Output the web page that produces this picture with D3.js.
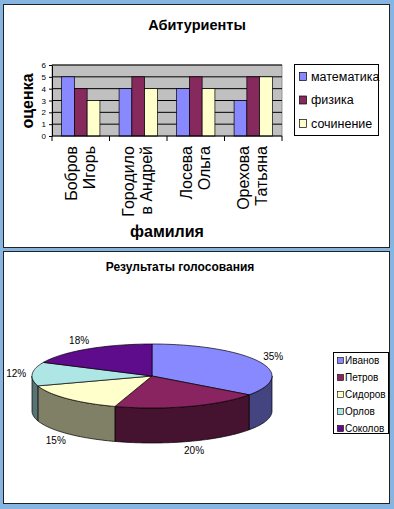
<!DOCTYPE html>
<html>
<head>
<meta charset="utf-8">
<script src="https://cdn.jsdelivr.net/npm/d3@7"></script>
<style>
  body { margin: 0; background: #87b5e2; }
  svg { display: block; font-family: "Liberation Sans", Arial, sans-serif; }
</style>
</head>
<body>
<svg id="chart" width="394" height="509"></svg>
<script>
// bar chart data
const students = [["Бобров", "Игорь"], ["Городило", "в Андрей"], ["Лосева", "Ольга"], ["Орехова", "Татьяна"]]
const subjects = ["математика", "физика", "сочинение"]
const math_marks = [5, 4, 4, 3]
const physics_marks = [4, 5, 5, 5]
const essay_marks = [3, 4, 4, 5]
const mark_ticks = [0, 1, 2, 3, 4, 5, 6]

// pie chart data
const candidates = ["Иванов", "Петров", "Сидоров", "Орлов", "Соколов"]
const votes = [35, 20, 15, 12, 18]

const bar_colors = ["#8888ff", "#862a5e", "#ffffcc"]
const pie_colors = ["#8888ff", "#8a2460", "#ffffcc", "#aee6e6", "#5e0c8c"]

const svg = d3.select("#chart")

svg.append("rect").attr("width", 394).attr("height", 509).attr("fill", "#87b5e2")

// the two white panels
svg.append("rect").attr("x", 3.5).attr("y", 4.5).attr("width", 386).attr("height", 243)
  .attr("fill", "white").attr("stroke", "#222")
svg.append("rect").attr("x", 3.5).attr("y", 251.5).attr("width", 386).attr("height", 252)
  .attr("fill", "white").attr("stroke", "#222")

// ---------- bar chart ----------
const plot = {left: 52, right: 282, top: 65, bottom: 136}

const x = d3.scaleBand()
  .domain(students.map(d => d.join(" ")))
  .range([plot.left, plot.right])
  .padding(0)

const y = d3.scaleLinear().domain([0, 6]).range([plot.bottom, plot.top])

const bw = x.bandwidth() / 4.5   // excel gap width 150%
const inner = d3.scaleBand().domain(subjects).range([bw * 0.75, bw * 3.75])

svg.append("text")
  .attr("x", 197).attr("y", 30)
  .attr("text-anchor", "middle")
  .attr("font-size", 14.5).attr("font-weight", "bold")
  .text("Абитуриенты")

svg.append("rect")
  .attr("x", plot.left).attr("y", plot.top)
  .attr("width", plot.right - plot.left).attr("height", plot.bottom - plot.top)
  .attr("fill", "#c0c0c0").attr("stroke", "#808080").attr("stroke-width", 0.8)

// gridlines
svg.append("g")
  .selectAll("line")
  .data(mark_ticks.slice(1))
  .join("line")
  .attr("x1", plot.left).attr("x2", plot.right)
  .attr("y1", d => y(d)).attr("y2", d => y(d))
  .attr("stroke", "black").attr("stroke-width", 1)

const series = [math_marks, physics_marks, essay_marks]

series.forEach((marks, i) => {
  svg.append("g")
    .selectAll("rect")
    .data(marks)
    .join("rect")
    .attr("x", (d, j) => x(students[j].join(" ")) + inner(subjects[i]))
    .attr("y", d => y(d))
    .attr("width", inner.bandwidth())
    .attr("height", d => y(0) - y(d))
    .attr("fill", bar_colors[i])
    .attr("stroke", "black").attr("stroke-width", 0.7)
})

// y axis
const y_axis = svg.append("g")
  .attr("transform", `translate(${plot.left},0)`)
  .call(d3.axisLeft(y).tickValues(mark_ticks).tickFormat(d3.format("d"))
    .tickSize(3).tickSizeOuter(0).tickPadding(3))
y_axis.selectAll("text").attr("font-size", 8).attr("font-family", "Liberation Sans, Arial")
y_axis.select(".domain").attr("stroke", "black")

// x axis line and boundary ticks
svg.append("line")
  .attr("x1", plot.left).attr("x2", plot.right)
  .attr("y1", plot.bottom).attr("y2", plot.bottom)
  .attr("stroke", "black")

const bounds = x.domain().map(d => x(d)).concat([plot.right])
svg.append("g")
  .selectAll("line")
  .data(bounds)
  .join("line")
  .attr("x1", d => d).attr("x2", d => d)
  .attr("y1", plot.bottom).attr("y2", plot.bottom + 5)
  .attr("stroke", "black")

// rotated two-line category labels
const cat_labels = svg.append("g")
  .selectAll("g")
  .data(students)
  .join("g")
  .attr("transform", d => `translate(${x(d.join(" ")) + x.bandwidth() / 2},146) rotate(-90)`)

cat_labels.each(function(d){
  const g = d3.select(this)
  d.forEach((line, k) => {
    g.append("text")
      .attr("x", 0)
      .attr("y", k == 0 ? -4 : 14)
      .attr("text-anchor", "end")
      .attr("font-size", 16)
      .text(line)
  })
})

svg.append("text")
  .attr("transform", "translate(33,101) rotate(-90)")
  .attr("text-anchor", "middle")
  .attr("font-size", 16).attr("font-weight", "bold")
  .text("оценка")

svg.append("text")
  .attr("x", 167).attr("y", 237)
  .attr("text-anchor", "middle")
  .attr("font-size", 16).attr("font-weight", "bold")
  .text("фамилия")

// legend
const legend1 = svg.append("g")
legend1.append("rect")
  .attr("x", 294.5).attr("y", 64.5).attr("width", 84).attr("height", 71)
  .attr("fill", "white").attr("stroke", "black")

const leg1_y = d3.scalePoint().domain(subjects).range([76, 123])
const leg1_items = legend1.selectAll("g.item")
  .data(subjects)
  .join("g")
  .attr("class", "item")
  .attr("transform", d => `translate(0,${leg1_y(d)})`)

leg1_items.append("rect")
  .attr("x", 299.5).attr("y", -3.5).attr("width", 7).attr("height", 8)
  .attr("fill", (d, i) => bar_colors[i]).attr("stroke", "black").attr("stroke-width", 0.7)
leg1_items.append("text")
  .attr("x", 311).attr("y", 4.5)
  .attr("font-size", 12.5)
  .text(d => d)

// ---------- 3D pie chart ----------
svg.append("text")
  .attr("x", 180).attr("y", 271)
  .attr("text-anchor", "middle")
  .attr("font-size", 12).attr("font-weight", "bold")
  .text("Результаты голосования")

const cx = 152, cy = 376, rx = 120, ry = 32, depth = 35

const pie = d3.pie().sort(null).value(d => d)
const arcs = pie(votes)

function pt(a, dy = 0){
  return [cx + rx * Math.sin(a), cy - ry * Math.cos(a) + dy]
}

function edge(a0, a1, dy = 0){
  const n = Math.max(2, Math.ceil((a1 - a0) / 0.03))
  return d3.range(n + 1).map(i => pt(a0 + (a1 - a0) * i / n, dy))
}

function half(c){
  const rgb = d3.rgb(c)
  return d3.rgb(rgb.r * 0.5, rgb.g * 0.5, rgb.b * 0.5).formatHex()
}

const line = d3.line()

// side walls (only the front half is visible)
const pie_g = svg.append("g")
pie_g.selectAll("path.side")
  .data(arcs.filter(d => d.endAngle > Math.PI / 2 && d.startAngle < Math.PI * 1.5))
  .join("path")
  .attr("class", "side")
  .attr("d", d => {
    const s = Math.max(d.startAngle, Math.PI / 2)
    const e = Math.min(d.endAngle, Math.PI * 1.5)
    const pts = edge(s, e).concat(edge(s, e, depth).reverse())
    return line(pts) + "Z"
  })
  .attr("fill", d => half(pie_colors[d.index]))
  .attr("stroke", "black").attr("stroke-width", 0.7)

// top faces
pie_g.selectAll("path.top")
  .data(arcs)
  .join("path")
  .attr("class", "top")
  .attr("d", d => line([[cx, cy]].concat(edge(d.startAngle, d.endAngle))) + "Z")
  .attr("fill", d => pie_colors[d.index])
  .attr("stroke", "black").attr("stroke-width", 0.7)

// percentage labels
const total = d3.sum(votes)
pie_g.selectAll("text")
  .data(arcs)
  .join("text")
  .attr("x", d => cx + 136 * Math.sin((d.startAngle + d.endAngle) / 2))
  .attr("y", d => {
    const m = (d.startAngle + d.endAngle) / 2
    const c = Math.cos(m)
    return cy - 42 * c + (c < 0 ? depth : 0) + 3.5
  })
  .attr("text-anchor", "middle")
  .attr("font-size", 10)
  .text(d => Math.round(d.value / total * 100) + "%")

// pie legend
const legend2 = svg.append("g")
legend2.append("rect")
  .attr("x", 333.5).attr("y", 352.5).attr("width", 55).attr("height", 81)
  .attr("fill", "white").attr("stroke", "black")

const leg2_y = d3.scalePoint().domain(candidates).range([360, 428])
const leg2_items = legend2.selectAll("g.item")
  .data(candidates)
  .join("g")
  .attr("class", "item")
  .attr("transform", d => `translate(0,${leg2_y(d)})`)

leg2_items.append("rect")
  .attr("x", 337.5).attr("y", -2.5).attr("width", 6).attr("height", 6)
  .attr("fill", (d, i) => pie_colors[i]).attr("stroke", "black").attr("stroke-width", 0.6)
leg2_items.append("text")
  .attr("x", 345).attr("y", 3.5)
  .attr("font-size", 10)
  .text(d => d)
</script>
</body>
</html>
